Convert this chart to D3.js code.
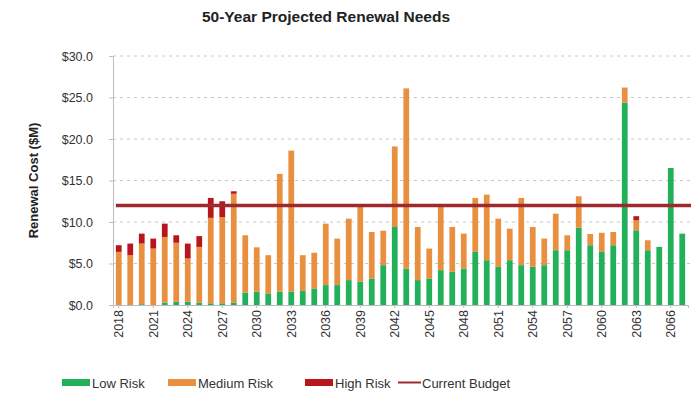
<!DOCTYPE html>
<html>
<head>
<meta charset="utf-8">
<script src="https://cdn.jsdelivr.net/npm/d3@7"></script>
<style>
  html, body { margin: 0; padding: 0; background: #fff; }
  svg { display: block; font-family: "Liberation Sans", Arial, sans-serif; }
</style>
</head>
<body>
<svg id="chart" width="691" height="400"></svg>
<script>
// Years 2018–2067
const years = d3.range(2018, 2068);

// Renewal cost by risk class ($M)
const lowRisk = [
  0, 0, 0.1, 0, 0.3, 0.4, 0.4, 0.3, 0.2, 0.2,
  0.3, 1.5, 1.6, 1.4, 1.6, 1.6, 1.7, 2.0, 2.4, 2.4,
  3.0, 2.8, 3.2, 4.8, 9.4, 4.4, 3.0, 3.2, 4.2, 4.0,
  4.4, 6.4, 5.4, 4.6, 5.4, 4.8, 4.6, 4.8, 6.6, 6.6,
  9.3, 7.2, 6.4, 7.2, 24.4, 9.0, 6.6, 7.0, 16.5, 8.6
];
const mediumRisk = [
  6.4, 6.0, 7.3, 6.8, 7.9, 7.1, 5.2, 6.7, 10.3, 10.4,
  13.1, 6.9, 5.35, 4.6, 14.2, 17.0, 4.3, 4.3, 7.4, 5.6,
  7.4, 9.0, 5.6, 4.15, 9.7, 21.7, 6.4, 3.6, 7.6, 5.4,
  4.2, 6.5, 7.9, 5.8, 3.8, 8.1, 4.8, 3.2, 4.4, 1.8,
  3.8, 1.35, 2.3, 1.6, 1.8, 1.2, 1.2, 0, 0, 0
];
const highRisk = [
  0.8, 1.4, 1.2, 1.2, 1.6, 0.9, 1.8, 1.3, 2.4, 1.9,
  0.3, 0, 0, 0, 0, 0, 0, 0, 0, 0,
  0, 0, 0, 0, 0, 0, 0, 0, 0, 0,
  0, 0, 0, 0, 0, 0, 0, 0, 0, 0,
  0, 0, 0, 0, 0, 0.5, 0, 0, 0, 0
];
const currentBudget = 12.0;

const yTicks = [0, 5, 10, 15, 20, 25, 30];
const xTickYears = d3.range(2018, 2068, 3);

const seriesKeys = ["low", "medium", "high"];
const seriesNames = ["Low Risk", "Medium Risk", "High Risk"];
const seriesColors = ["#22b05a", "#e8903f", "#b8161e"];
const budgetColor = "#9e2a2f";

const rows = years.map((y, i) => ({
  year: y, low: lowRisk[i], medium: mediumRisk[i], high: highRisk[i]
}));

const svg = d3.select("#chart");
const margin = { top: 56, right: 3, bottom: 95, left: 113 };
const W = 691, H = 400;

const x = d3.scaleBand()
  .domain(years)
  .range([margin.left, W - margin.right])
  .paddingInner(0.5)
  .paddingOuter(0.25);

const y = d3.scaleLinear()
  .domain([0, 30])
  .range([H - margin.bottom, margin.top]);

// Title
svg.append("text")
  .attr("x", 326).attr("y", 22)
  .attr("text-anchor", "middle")
  .attr("font-size", 15.5).attr("font-weight", "bold")
  .attr("fill", "#222")
  .text("50-Year Projected Renewal Needs");

// Dashed gridlines
svg.append("g")
  .selectAll("line")
  .data(yTicks.filter(t => t > 0))
  .join("line")
  .attr("x1", margin.left).attr("x2", W)
  .attr("y1", d => y(d)).attr("y2", d => y(d))
  .attr("stroke", "#c8c8c8").attr("stroke-width", 1)
  .attr("stroke-dasharray", "3,4");

// Y axis
const yAxis = svg.append("g")
  .attr("transform", `translate(${margin.left},0)`)
  .call(d3.axisLeft(y).tickValues(yTicks).tickSize(4).tickPadding(16)
    .tickFormat(d => "$" + d3.format(".1f")(d)));
yAxis.select(".domain").attr("stroke", "#bdbdbd");
yAxis.selectAll(".tick line").attr("stroke", "#bdbdbd");
yAxis.selectAll("text").attr("font-size", 12.5).attr("fill", "#333");

svg.append("text")
  .attr("transform", `translate(38,${(y(0) + y(30)) / 2}) rotate(-90)`)
  .attr("text-anchor", "middle")
  .attr("font-size", 13).attr("font-weight", "bold")
  .attr("fill", "#222")
  .text("Renewal Cost ($M)");

// X axis
const xAxis = svg.append("g")
  .attr("transform", `translate(0,${y(0)})`)
  .call(d3.axisBottom(x).tickValues(xTickYears).tickSize(3).tickPadding(4));
xAxis.select(".domain").attr("stroke", "#bdbdbd");
xAxis.selectAll(".tick line").attr("stroke", "#bdbdbd");
xAxis.selectAll("text")
  .attr("font-size", 12.5).attr("fill", "#333")
  .attr("text-anchor", "end")
  .attr("dy", "0.35em")
  .attr("transform", "translate(0,5) rotate(-90)")
  .attr("x", 0).attr("y", 0);

// Stacked bars
const stack = d3.stack().keys(seriesKeys)(rows);
svg.append("g")
  .selectAll("g")
  .data(stack)
  .join("g")
  .attr("fill", (d, i) => seriesColors[i])
  .selectAll("rect")
  .data(d => d)
  .join("rect")
  .attr("x", d => x(d.data.year))
  .attr("width", x.bandwidth())
  .attr("y", d => y(d[1]))
  .attr("height", d => Math.max(0, y(d[0]) - y(d[1])));

// Current budget line
svg.append("line")
  .attr("x1", x(years[0])).attr("x2", W)
  .attr("y1", y(currentBudget)).attr("y2", y(currentBudget))
  .attr("stroke", budgetColor).attr("stroke-width", 3.5);

// Legend
const legend = svg.append("g").attr("font-size", 13).attr("fill", "#333");
const legendItems = [
  { name: seriesNames[0], color: seriesColors[0], x: 62, type: "rect" },
  { name: seriesNames[1], color: seriesColors[1], x: 168, type: "rect" },
  { name: seriesNames[2], color: seriesColors[2], x: 305, type: "rect" },
  { name: "Current Budget", color: budgetColor, x: 398, type: "line" }
];
legendItems.forEach(it => {
  if (it.type === "rect") {
    legend.append("rect")
      .attr("x", it.x).attr("y", 379).attr("width", 28).attr("height", 7)
      .attr("fill", it.color);
  } else {
    legend.append("line")
      .attr("x1", it.x).attr("x2", it.x + 23)
      .attr("y1", 382.5).attr("y2", 382.5)
      .attr("stroke", it.color).attr("stroke-width", 2);
  }
  legend.append("text")
    .attr("x", it.x + (it.type === "rect" ? 30 : 24)).attr("y", 383)
    .attr("dy", "0.35em")
    .text(it.name);
});
</script>
</body>
</html>
